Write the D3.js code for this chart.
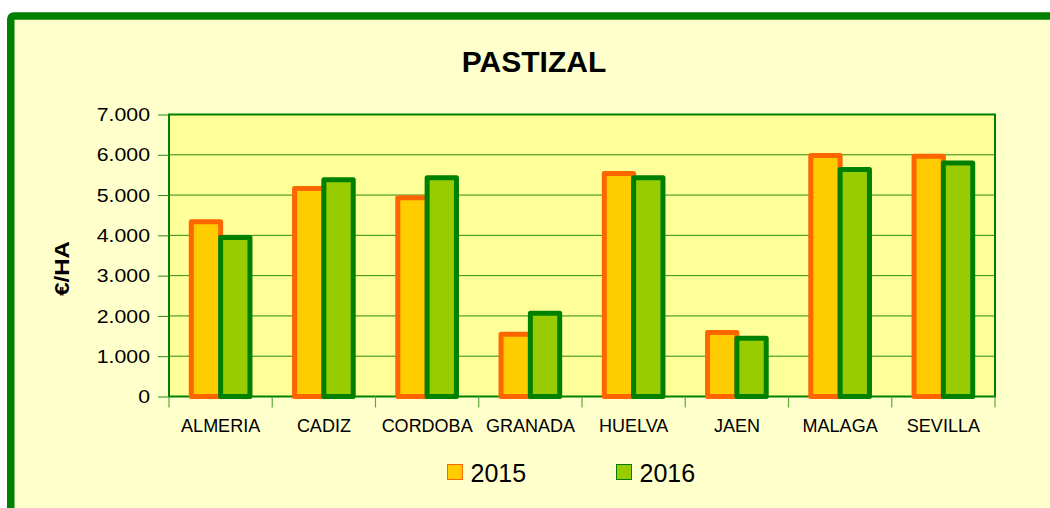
<!DOCTYPE html>
<html>
<head>
<meta charset="utf-8">
<script src="https://cdn.jsdelivr.net/npm/d3@7"></script>
<style>
  body { margin: 0; background: #fff; }
  text { font-family: "Liberation Sans", Arial, sans-serif; }
</style>
</head>
<body>
<div id="container"></div>
<script>
// data
var provinces = ["ALMERIA", "CADIZ", "CORDOBA", "GRANADA", "HUELVA", "JAEN", "MALAGA", "SEVILLA"];
var years = ["2015", "2016"];
var values2015 = [4340, 5165, 4935, 1545, 5535, 1590, 5980, 5965];
var values2016 = [3945, 5380, 5430, 2065, 5430, 1445, 5635, 5795];
var yTicks = [0, 1000, 2000, 3000, 4000, 5000, 6000, 7000];

var fills = { "2015": "#ffcc00", "2016": "#99cc00" };
var strokes = { "2015": "#ff6600", "2016": "#008000" };

var width = 1050, height = 508;
var svg = d3.select("#container").append("svg")
    .attr("width", width)
    .attr("height", height);

// outer frame
svg.append("rect")
    .attr("x", 10.75).attr("y", 16)
    .attr("width", 1100).attr("height", 600)
    .attr("rx", 3)
    .attr("fill", "#ffffcc")
    .attr("stroke", "#008000")
    .attr("stroke-width", 7.5);

var plot = { left: 169, right: 995, top: 114.5, bottom: 396.5 };

var x0 = d3.scaleBand()
    .domain(provinces)
    .range([plot.left, plot.right])
    .padding(0);

var x1 = d3.scaleBand()
    .domain(years)
    .range([0, x0.bandwidth()])
    .paddingInner(0)
    .paddingOuter(0.76);

var y = d3.scaleLinear()
    .domain([0, 7000])
    .range([plot.bottom, plot.top]);

// plot background
svg.append("rect")
    .attr("x", plot.left).attr("y", plot.top)
    .attr("width", plot.right - plot.left)
    .attr("height", plot.bottom - plot.top)
    .attr("fill", "#ffff99");

// gridlines
svg.append("g").selectAll("line")
    .data(yTicks)
    .enter().append("line")
      .attr("x1", plot.left).attr("x2", plot.right)
      .attr("y1", function(d) { return y(d); })
      .attr("y2", function(d) { return y(d); })
      .attr("stroke", "#2a8c14")
      .attr("stroke-width", 1);

// plot border
svg.append("rect")
    .attr("x", plot.left).attr("y", plot.top)
    .attr("width", plot.right - plot.left)
    .attr("height", plot.bottom - plot.top)
    .attr("fill", "none")
    .attr("stroke", "#008000")
    .attr("stroke-width", 2);

// y axis
var stretch = 1.12;
var yAxis = svg.append("g")
    .attr("transform", "translate(" + plot.left + ",0)")
    .call(d3.axisLeft(y)
      .tickValues(yTicks)
      .tickSize(11)
      .tickPadding(8)
      .tickFormat(function(d) { return d3.format(",")(d).replace(/,/g, "."); }));
yAxis.select(".domain").remove();
yAxis.selectAll(".tick line").attr("stroke", "#2a8c14");
yAxis.selectAll(".tick text")
    .attr("x", -19 / stretch)
    .attr("transform", "scale(" + stretch + ",1)")
    .style("font-size", "19px")
    .attr("fill", "#000");

// x axis: ticks at category boundaries
var bounds = provinces.map(function(p) { return x0(p); }).concat([plot.right]);
svg.append("g").selectAll("line")
    .data(bounds)
    .enter().append("line")
      .attr("x1", function(d) { return d; })
      .attr("x2", function(d) { return d; })
      .attr("y1", plot.bottom)
      .attr("y2", plot.bottom + 11)
      .attr("stroke", "#5aa83a")
      .attr("stroke-width", 1.2);

var xAxis = svg.append("g")
    .attr("transform", "translate(0," + plot.bottom + ")")
    .call(d3.axisBottom(x0).tickSize(0));
xAxis.select(".domain").remove();
xAxis.selectAll(".tick text")
    .attr("y", 35)
    .attr("dy", null)
    .style("font-size", "18px")
    .attr("fill", "#000");

// bars
var rows = provinces.map(function(p, i) {
  return { name: p, values: [
    { year: "2015", value: values2015[i] },
    { year: "2016", value: values2016[i] }
  ] };
});

var groups = svg.append("g").selectAll("g")
    .data(rows)
    .enter().append("g")
      .attr("transform", function(d) { return "translate(" + x0(d.name) + ",0)"; });

groups.selectAll("rect")
    .data(function(d) { return d.values; })
    .enter().append("rect")
      .attr("x", function(d) { return x1(d.year); })
      .attr("y", function(d) { return y(d.value); })
      .attr("width", x1.bandwidth())
      .attr("height", function(d) { return y(0) - y(d.value); })
      .attr("fill", function(d) { return fills[d.year]; })
      .attr("stroke", function(d) { return strokes[d.year]; })
      .attr("stroke-width", 5)
      .attr("stroke-linejoin", "round");

// title
svg.append("text")
    .attr("x", 534).attr("y", 72)
    .attr("text-anchor", "middle")
    .style("font-size", "30px")
    .style("font-weight", "bold")
    .attr("fill", "#000")
    .text("PASTIZAL");

// y axis title
svg.append("text")
    .attr("transform", "translate(68.5,268.5) rotate(-90) scale(1.2,1)")
    .attr("text-anchor", "middle")
    .style("font-size", "20px")
    .style("font-weight", "bold")
    .attr("fill", "#000")
    .text("€/HA");

// legend
var legendItems = [
  { year: "2015", x: 447.5 },
  { year: "2016", x: 616.5 }
];
var legend = svg.append("g").selectAll("g")
    .data(legendItems)
    .enter().append("g");
legend.append("rect")
    .attr("x", function(d) { return d.x; })
    .attr("y", 464.5)
    .attr("width", 15).attr("height", 15)
    .attr("fill", function(d) { return fills[d.year]; })
    .attr("stroke", function(d) { return strokes[d.year]; })
    .attr("stroke-width", 1);
legend.append("text")
    .attr("x", function(d) { return d.x + 23; })
    .attr("y", 481.5)
    .style("font-size", "25px")
    .attr("fill", "#000")
    .text(function(d) { return d.year; });
</script>
</body>
</html>
